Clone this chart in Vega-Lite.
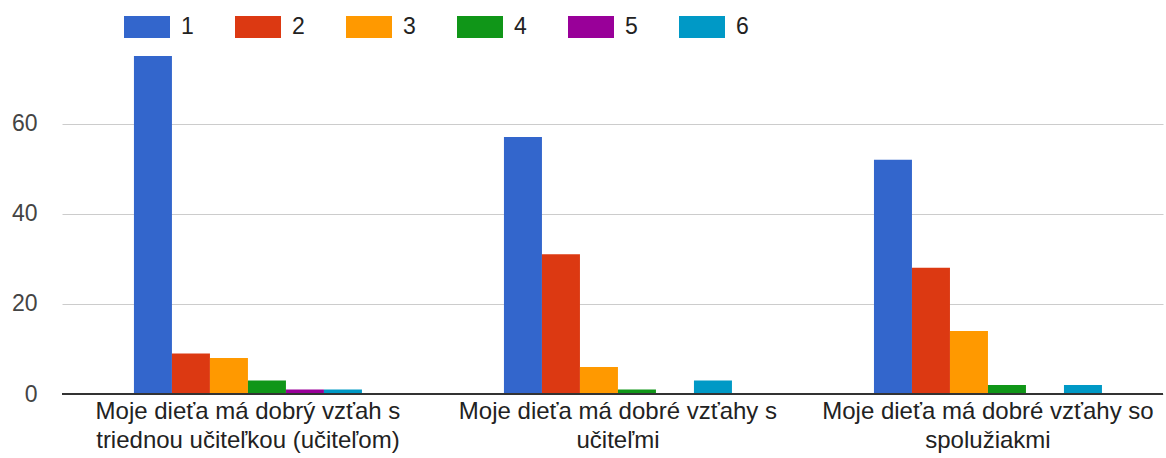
{
  "$schema": "https://vega.github.io/schema/vega-lite/v6.json",
  "width": 1101,
  "height": 338,
  "autosize": {"type": "none"},
  "padding": {"left": 62, "top": 56, "right": 3, "bottom": 64},
  "background": "white",
  "config": {
    "view": {"stroke": null},
    "font": "Liberation Sans",
    "axis": {"labelFont": "Liberation Sans", "labelFontSize": 23, "labelColor": "#444444"},
    "legend": {"labelFont": "Liberation Sans", "labelFontSize": 23, "labelColor": "#222222"}
  },
  "data": {
    "values": [
      {"group": "Moje dieťa má dobrý vzťah s triednou učiteľkou (učiteľom)", "answer": "1", "count": 75},
      {"group": "Moje dieťa má dobrý vzťah s triednou učiteľkou (učiteľom)", "answer": "2", "count": 9},
      {"group": "Moje dieťa má dobrý vzťah s triednou učiteľkou (učiteľom)", "answer": "3", "count": 8},
      {"group": "Moje dieťa má dobrý vzťah s triednou učiteľkou (učiteľom)", "answer": "4", "count": 3},
      {"group": "Moje dieťa má dobrý vzťah s triednou učiteľkou (učiteľom)", "answer": "5", "count": 1},
      {"group": "Moje dieťa má dobrý vzťah s triednou učiteľkou (učiteľom)", "answer": "6", "count": 1},
      {"group": "Moje dieťa má dobré vzťahy s učiteľmi", "answer": "1", "count": 57},
      {"group": "Moje dieťa má dobré vzťahy s učiteľmi", "answer": "2", "count": 31},
      {"group": "Moje dieťa má dobré vzťahy s učiteľmi", "answer": "3", "count": 6},
      {"group": "Moje dieťa má dobré vzťahy s učiteľmi", "answer": "4", "count": 1},
      {"group": "Moje dieťa má dobré vzťahy s učiteľmi", "answer": "5", "count": 0},
      {"group": "Moje dieťa má dobré vzťahy s učiteľmi", "answer": "6", "count": 3},
      {"group": "Moje dieťa má dobré vzťahy so spolužiakmi", "answer": "1", "count": 52},
      {"group": "Moje dieťa má dobré vzťahy so spolužiakmi", "answer": "2", "count": 28},
      {"group": "Moje dieťa má dobré vzťahy so spolužiakmi", "answer": "3", "count": 14},
      {"group": "Moje dieťa má dobré vzťahy so spolužiakmi", "answer": "4", "count": 2},
      {"group": "Moje dieťa má dobré vzťahy so spolužiakmi", "answer": "5", "count": 0},
      {"group": "Moje dieťa má dobré vzťahy so spolužiakmi", "answer": "6", "count": 2}
    ]
  },
  "layer": [
    {
      "mark": {"type": "bar"},
      "encoding": {
        "x": {
          "field": "group", "type": "nominal", "sort": null,
          "scale": {"paddingInner": 0.3838, "paddingOuter": 0.1797, "align": 0.541},
          "axis": {
            "title": null, "labelAngle": 0, "tickSize": 0, "domain": false,
            "labelPadding": 5, "labelLimit": 0, "labelLineHeight": 29, "labelColor": "#222222",
            "labelFontSize": 24,
            "labelExpr": "[join(slice(split(datum.label, ' '), 0, 6), ' '), join(slice(split(datum.label, ' '), 6), ' ')]"
          }
        },
        "xOffset": {"field": "answer", "type": "nominal", "scale": {"paddingInner": 0, "paddingOuter": 0}},
        "y": {
          "field": "count", "type": "quantitative",
          "scale": {"domain": [0, 75], "nice": false, "zero": true},
          "axis": {
            "title": null, "values": [0, 20, 40, 60], "tickSize": 0, "domain": false,
            "labelPadding": 25, "gridColor": "#cccccc", "gridWidth": 1
          }
        },
        "color": {
          "field": "answer", "type": "nominal",
          "scale": {"domain": ["1","2","3","4","5","6"], "range": ["#3366cc","#dc3912","#ff9900","#109618","#990099","#0099c6"]},
          "legend": {
            "title": null, "orient": "none", "direction": "horizontal", "columns": 6,
            "legendX": 62, "legendY": -52, "padding": 0,
            "symbolType": "M-1,-0.478H1V0.478H-1Z", "symbolSize": 2116, "symbolStrokeWidth": 0,
            "symbolOpacity": 1, "labelOffset": 11, "columnPadding": 41
          }
        }
      }
    },
    {
      "mark": {"type": "rule", "color": "#333333", "strokeWidth": 2},
      "encoding": {"y": {"datum": 0, "type": "quantitative"}}
    }
  ]
}
